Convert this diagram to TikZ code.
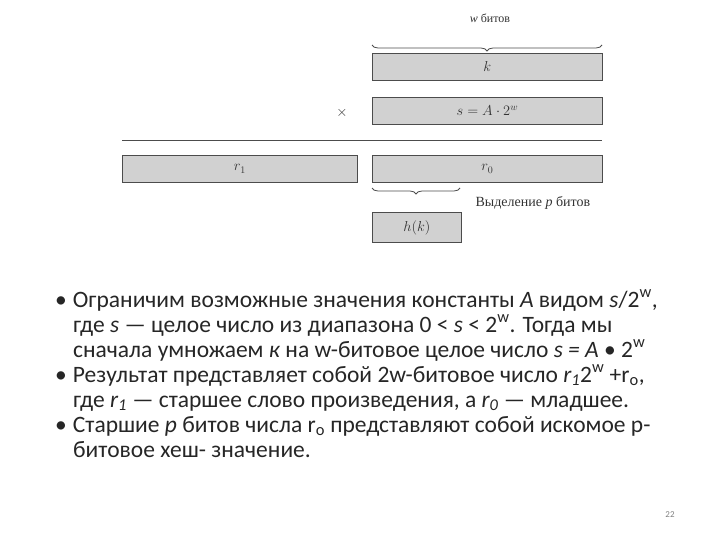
\documentclass[tikz,border=0pt]{standalone}
\usepackage{fontspec}
\setmainfont{Carlito}
\newfontfamily\serifru{Liberation Serif}
\usetikzlibrary{decorations.pathreplacing}
\begin{document}
\begin{tikzpicture}[x=1pt,y=-1pt,
  bar/.style={draw=black!70,fill=black!18,line width=0.8pt},
  lbl/.style={font=\serifru\fontsize{14}{16}\selectfont,text=black!80},
  ln/.style={anchor=base west,font=\fontsize{23.5}{26}\selectfont,inner sep=0pt,text=black!85},
  brc/.style={decorate,decoration={brace,amplitude=6pt},draw=black!70,line width=0.8pt}]
\useasboundingbox (0,0) rectangle (720,540);
\node[bar,minimum width=230pt,minimum height=27pt,anchor=north west] (k) at (372,53) {};
\node[lbl] at (k) {$k$};
\node[bar,minimum width=230pt,minimum height=27pt,anchor=north west] (s) at (372,97) {};
\node[lbl] at (s) {$s=A\cdot 2^w$};
\node[lbl] (x) at (342,113) {$\times$};
\coordinate (la) at (122,140); \coordinate (lb) at (602,140);
\draw[black!70,line width=0.9pt] (la) -- (lb);
\node[bar,minimum width=235pt,minimum height=27pt,anchor=north west] (r1) at (122,155) {};
\node[lbl] at (r1) {$r_1$};
\node[bar,minimum width=230pt,minimum height=27pt,anchor=north west] (r0) at (372,155) {};
\node[lbl] at (r0) {$r_0$};
\node[bar,minimum width=89pt,minimum height=30pt,anchor=north west] (h) at (372,212) {};
\node[lbl] at (h) {$h(k)$};
\coordinate (b1) at (372,45); \coordinate (b2) at (602,45);
\draw[brc] (b2) -- (b1);
\node[lbl,font=\serifru\fontsize{12}{14}\selectfont] (wb) at (490,18) {\textit{w} битов};
\coordinate (c1) at (460,188); \coordinate (c2) at (372,188);
\draw[brc] (c1) -- (c2);
\node[lbl,anchor=west,font=\serifru\fontsize{14}{16}\selectfont] (vp) at (472,203) {Выделение \textit{p} битов};
\node[ln] (t1) at (55,307) {•\hspace{6pt}Ограничим возможные значения константы \textit{A} видом \textit{s}/2\textsuperscript{w},};
\node[ln] (t2) at (73,332) {где \textit{s} — целое число из диапазона 0 < \textit{s} < 2\textsuperscript{w}. Тогда мы};
\node[ln] (t3) at (73,357) {сначала умножаем \textit{к} на w-битовое целое число \textit{s = A} • 2\textsuperscript{w}};
\node[ln] (t4) at (55,382) {•\hspace{6pt}Результат представляет собой 2w-битовое число \textit{r\textsubscript{1}}2\textsuperscript{w} +r\textsubscript{o},};
\node[ln] (t5) at (73,407) {где \textit{r\textsubscript{1}} — старшее слово произведения, а \textit{r\textsubscript{0}} — младшее.};
\node[ln] (t7) at (55,432) {•\hspace{6pt}Старшие \textit{p} битов числа r\textsubscript{o} представляют собой искомое p-};
\node[ln] (t8) at (73,457) {битовое хеш- значение.};
\node[font=\fontsize{9}{10}\selectfont,text=black!50] (pg) at (670,515) {22};
\end{tikzpicture}
\end{document}
